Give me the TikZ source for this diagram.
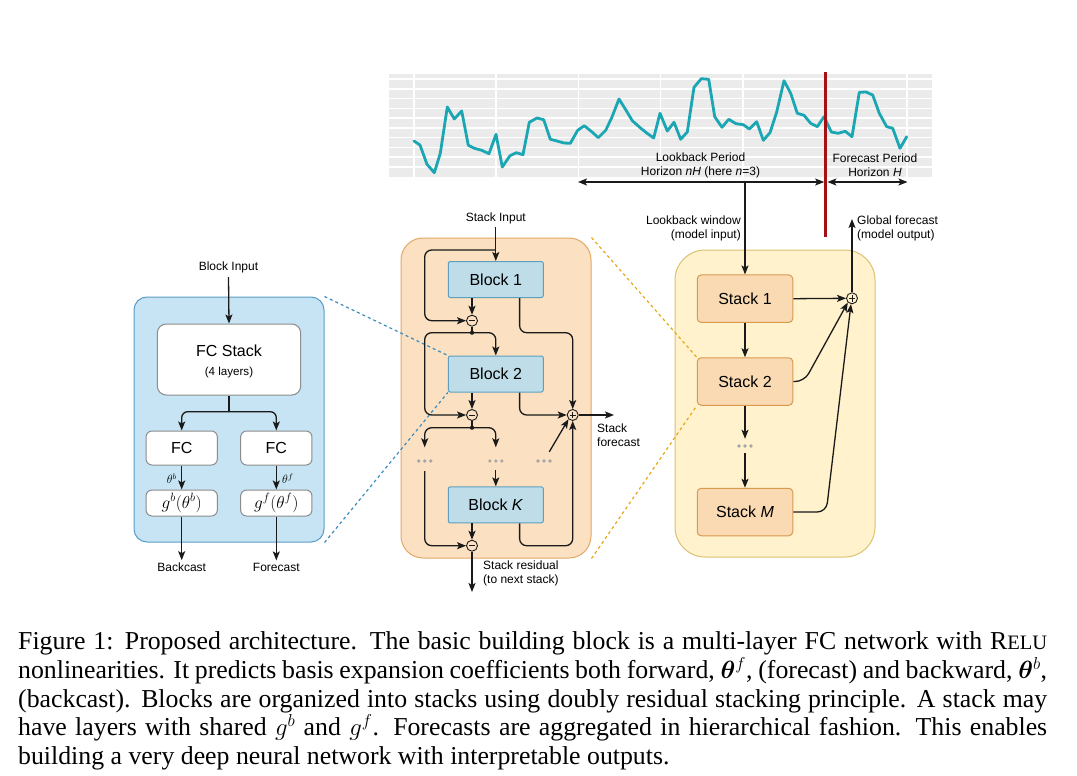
\documentclass[tikz,border=0pt]{standalone}
\usepackage{amsmath,bm}
\usepackage{fontspec}
\setmainfont{Liberation Serif}
\newfontfamily\arial{Liberation Sans}
\usetikzlibrary{arrows.meta}
\definecolor{teal1}{HTML}{1AA6B2}
\definecolor{chartbg}{HTML}{EBEBEB}
\definecolor{redl}{HTML}{A50F15}
\definecolor{bluepanel}{HTML}{C6E4F3}
\definecolor{blueedge}{HTML}{5A9CC6}
\definecolor{midpanel}{HTML}{FBE0C2}
\definecolor{midedge}{HTML}{E2A967}
\definecolor{blockfill}{HTML}{BEDDE8}
\definecolor{blockedge}{HTML}{5E9FBF}
\definecolor{rightpanel}{HTML}{FFF2CC}
\definecolor{rightedge}{HTML}{DCC172}
\definecolor{stackfill}{HTML}{FADAB2}
\definecolor{stackedge}{HTML}{D99A50}
\definecolor{dashb}{HTML}{3C8DBF}
\definecolor{dasho}{HTML}{E6A817}
\definecolor{dotgray}{HTML}{A6A6A6}
\definecolor{ink}{HTML}{1A1A1A}
\tikzset{
  lbl/.style={font=\arial\fontsize{12}{14}\selectfont, inner sep=0pt, text=black},
  conn/.style={line width=1.3pt, draw=ink, -{Stealth[length=9pt,width=7pt,inset=2pt]}},
  plain/.style={line width=1.3pt, draw=ink},
  panel/.style={draw=#1edge, fill=#1panel, line width=1pt, rounded corners=22pt},
  blockbox/.style={draw=blockedge, fill=blockfill, line width=1pt, rounded corners=2pt,
     minimum width=95pt, minimum height=36pt, inner sep=0pt, font=\arial\fontsize{16}{18}\selectfont},
  stackbox/.style={draw=stackedge, fill=stackfill, line width=1pt, rounded corners=4pt,
     minimum width=95.5pt, minimum height=47.5pt, inner sep=0pt, font=\arial\fontsize{16}{18}\selectfont},
  whitebox/.style={draw=black!45, fill=white, line width=1pt, rounded corners=6pt, inner sep=0pt},
  opcirc/.style={circle, draw=ink, line width=0.9pt, fill=#1, minimum size=11pt, inner sep=0pt},
  minusop/.style={opcirc=#1, path picture={\draw[line width=0.9pt,ink] ([xshift=-3.2pt]path picture bounding box.center) -- ([xshift=3.2pt]path picture bounding box.center);}},
  plusop/.style={opcirc=#1, path picture={\draw[line width=0.9pt,ink] ([xshift=-3.2pt]path picture bounding box.center) -- ([xshift=3.2pt]path picture bounding box.center) ([yshift=-3.2pt]path picture bounding box.center) -- ([yshift=3.2pt]path picture bounding box.center);}},
  dotsn/.style={minimum width=18pt, minimum height=6pt, inner sep=0pt,
     path picture={\fill[dotgray] ([xshift=-6pt]path picture bounding box.center) circle (1.8pt)
        (path picture bounding box.center) circle (1.8pt) ([xshift=6pt]path picture bounding box.center) circle (1.8pt);}},
  dashblue/.style={draw=dashb, line width=1.2pt, dash pattern=on 3pt off 3pt},
  dashorange/.style={draw=dasho, line width=1.2pt, dash pattern=on 3pt off 3pt},
  dblarrow/.style={line width=1.3pt, draw=ink, {Stealth[length=9pt,width=7pt,inset=2pt]}-{Stealth[length=9pt,width=7pt,inset=2pt]}},
}
\begin{document}
\begin{tikzpicture}[x=1pt,y=-1pt]
\useasboundingbox[fill=white] (0,0) rectangle (1077,776);

% ---------------- chart ----------------
\fill[chartbg] (389,74) rectangle (932,177);
\foreach \yy in {79,89,98.5,108.5,118,128,137.5,147.5,157,167}
  \draw[white, line width=1.1pt] (389,\yy) -- (932,\yy);
\foreach \xx in {414,496.2,578.4,660.6,742.8,825,907.2}
  \draw[white, line width=1.6pt] (\xx,74) -- (\xx,177);
\draw[teal1, line width=2.8pt, line join=round, line cap=round]
 (414,141) -- (420,145) -- (427,164.3) -- (434.3,172.7) -- (440.3,153.3) -- (447.3,107) -- (454.3,119) -- (461.7,111) -- (468.3,145.3) -- (474.3,148.3) -- (481.7,150.3) -- (489,153.7) -- (496,134.3) -- (502.3,167) -- (510,155.7) -- (516.3,152.7) -- (523,154.7) -- (529.3,122.3) -- (537,118) -- (543.7,119.7) -- (550.3,139.3) -- (557,141) -- (564,143) -- (570.3,143.3) -- (577.7,130.3) -- (584.3,125.7) -- (591.7,131.7) -- (598.3,137.7) -- (605.7,130.3) -- (611.7,117.7) -- (619,99) -- (625.7,109.7) -- (632.3,120.7) -- (639.7,127.3) -- (646.7,133) -- (653.7,138) -- (660,113.3) -- (667.3,131) -- (674,122.3) -- (680.7,139.3) -- (687.3,132) -- (694,87.3) -- (701.3,78.7) -- (708.7,79.3) -- (714.7,116.7) -- (722,127.3) -- (728.7,119.3) -- (736,123.7) -- (743.3,124.7) -- (749.3,129) -- (756.7,121.7) -- (763.3,140.3) -- (770,132.7) -- (776.7,112) -- (784,80.7) -- (790.7,93.3) -- (797.3,113.3) -- (804,115.3) -- (810.7,123.3) -- (817.3,126.7) -- (824,116.7) -- (831.3,132) -- (838,133.3) -- (845.3,131.3) -- (852,136.7) -- (859.3,92.3) -- (866,92) -- (872.7,95) -- (879.3,113.3) -- (886.7,126.7) -- (892.7,128.3) -- (900,148.3) -- (906.7,136.7);
\draw[redl, line width=2.6pt] (825.7,72) -- (825.7,237);

\node[lbl, align=center] (lbp) at (700.5,165.5) {Lookback Period\\Horizon \textit{nH} (here \textit{n}=3)};
\node[lbl, align=center] (fcp) at (875,165.5) {Forecast Period\\Horizon \textit{H}};
\coordinate (la) at (578,182);
\coordinate (lb) at (824.2,182);
\coordinate (fa) at (827.4,182);
\coordinate (fb) at (907.5,182);
\draw[dblarrow] (la) -- (lb);
\draw[dblarrow] (fa) -- (fb);
\coordinate (lw) at (745,182);

% ---------------- panels ----------------
\node[panel=blue, rounded corners=13pt, minimum width=190pt, minimum height=245pt] (bp) at (229,419.5) {};
\node[panel=mid, minimum width=190pt, minimum height=320pt] (mp) at (496,398) {};
\node[panel=right, rounded corners=30pt, minimum width=200pt, minimum height=307pt] (rp) at (775,403.5) {};

% ---------------- stack internals nodes ----------------
\node[blockbox] (b1) at (495.8,279.5) {Block 1};
\node[blockbox] (b2) at (495.8,374) {Block 2};
\node[blockbox] (bk) at (495.8,504.9) {Block \textit{K}};

\node[stackbox] (s1) at (745,298.7) {Stack 1};
\node[stackbox] (s2) at (745,381.5) {Stack 2};
\node[stackbox] (sm) at (745,512) {Stack \textit{M}};

% dashed zoom lines
\draw[dashblue] (bp.north east) -- (b2.north west);
\draw[dashblue] (bp.south east) -- (b2.south west);
\draw[dashorange] (mp.north east) -- (s2.north west);
\draw[dashorange] (mp.south east) -- (s2.south west);

% ---------------- left block detail ----------------
\node[lbl] (bin) at (228.5,267.3) {Block Input};
\node[whitebox, rounded corners=9pt, minimum width=143.4pt, minimum height=71pt] (fcs) at (229,359.5) {};
\node[lbl, font=\arial\fontsize{16}{18}\selectfont] (fcst) at (229,351) {FC Stack};
\node[lbl, font=\arial\fontsize{11.6}{13}\selectfont] (fcsl) at (229,372) {(4 layers)};
\node[whitebox, minimum width=71.3pt, minimum height=34pt, font=\arial\fontsize{16}{18}\selectfont] (fcb) at (181.7,448) {FC};
\node[whitebox, minimum width=71.3pt, minimum height=34pt, font=\arial\fontsize{16}{18}\selectfont] (fcf) at (276.3,448) {FC};
\node[whitebox, minimum width=71.3pt, minimum height=26pt, font=\fontsize{18}{20}\selectfont] (gb) at (181.7,503) {$g^b(\theta^b)$};
\node[whitebox, minimum width=71.3pt, minimum height=26pt, font=\fontsize{18}{20}\selectfont] (gf) at (276.3,503) {$g^f(\theta^f)$};
\node[inner sep=0pt, anchor=east, font=\fontsize{12}{14}\selectfont] (thb) at (177,479) {$\theta^b$};
\node[inner sep=0pt, anchor=west, font=\fontsize{12}{14}\selectfont] (thf) at (282,479) {$\theta^f$};
\node[lbl] (bc) at (181.7,567.3) {Backcast};
\node[lbl] (fc) at (276.3,567.3) {Forecast};
\coordinate (fork) at (229,411.7);
\draw[conn] (bin.south) ++(0,4) -- (fcs.north);
\draw[plain] (fcs.south) -- (fork);
\draw[conn, rounded corners=6pt] (fork) -- (fork -| fcb) -- (fcb.north);
\draw[conn, rounded corners=6pt] (fork) -- (fork -| fcf) -- (fcf.north);
\draw[conn] (fcb.south) -- (gb.north);
\draw[conn] (fcf.south) -- (gf.north);
\draw[conn] (gb.south) -- ([yshift=2.5pt]bc.north);
\draw[conn] (gf.south) -- ([yshift=2.5pt]fc.north);

% ---------------- stack internals connectors ----------------
\node[lbl] (si) at (495.8,218) {Stack Input};
\node[minusop=midpanel] (m1) at (472,320.7) {};
\node[minusop=midpanel] (m2) at (472,415) {};
\node[minusop=midpanel] (mk) at (472,545.7) {};
\node[plusop=midpanel] (p1) at (572.7,415) {};
\coordinate (fbtop) at (495.8,250);
\coordinate (xl) at (424.7,0);
\coordinate (j1) at (472,332.7);
\coordinate (j2) at (472,427.7);
\coordinate (b1l) at ([xshift=-23.8pt]b1.south);
\coordinate (b1r) at ([xshift=23.8pt]b1.south);
\coordinate (b2l) at ([xshift=-23.8pt]b2.south);
\coordinate (b2r) at ([xshift=23.8pt]b2.south);
\coordinate (bkl) at ([xshift=-23.8pt]bk.south);
\coordinate (bkr) at ([xshift=23.8pt]bk.south);
\node[dotsn] (d1) at (424.7,461) {};
\node[dotsn] (d2) at (495.8,461) {};
\node[dotsn] (d3) at (544,461) {};
\node[lbl, anchor=north west, align=left] (sf) at (597,424) {Stack\\forecast};
\node[lbl, anchor=north west, align=left] (sr) at (483,561) {Stack residual\\(to next stack)};
\coordinate (srend) at (472,592);
\coordinate (sfend) at (614,415);

\draw[conn] (si.south) ++(0,3) -- (b1.north);
\draw[conn, rounded corners=7pt] (fbtop) -- (fbtop -| xl) -- (xl |- m1) -- (m1.west);
\draw[conn] (b1l) -- (m1.north);
\draw[plain] (m1.south) -- (j1);
\fill[ink] (j1) circle (2.1pt);
\draw[conn, rounded corners=7pt] (j1) -- (j1 -| b2.north) -- (b2.north);
\draw[conn, rounded corners=7pt] (j1) -- (j1 -| xl) -- (xl |- m2) -- (m2.west);
\draw[conn] (b2l) -- (m2.north);
\draw[conn, rounded corners=7pt] (b1r) -- (b1r |- j1) -- (p1 |- j1) -- (p1.north);
\draw[conn, rounded corners=7pt] (b2r) -- (b2r |- p1) -- (p1.west);
\draw[conn] (p1.east) -- (sfend);
\draw[plain] (m2.south) -- (j2);
\fill[ink] (j2) circle (2.1pt);
\draw[conn, rounded corners=7pt] (j2) -- (j2 -| d1) -- ([yshift=10.5pt]d1.north);
\draw[conn, rounded corners=7pt] (j2) -- (j2 -| d2) -- ([yshift=10.5pt]d2.north);
\draw[conn, rounded corners=7pt] ([yshift=-7pt]d1.south) -- (d1 |- mk) -- (mk.west);
\draw[conn] ([yshift=-6pt]d2.south) -- (bk.north);
\draw[conn] (bkl) -- (mk.north);
\draw[conn, rounded corners=7pt] (bkr) -- (bkr |- mk) -- (p1 |- mk) -- (p1.south);
\draw[conn] ([xshift=5.3pt,yshift=6pt]d3.north) -- (p1.225);
\draw[conn] (mk.south) -- (srend);

% ---------------- right panel connectors ----------------
\node[plusop=rightpanel] (gp) at (852,298.3) {};
\node[lbl, anchor=east, align=right] (lwl) at (741,228) {Lookback window\\(model input)};
\node[lbl, anchor=west, align=left] (gfl) at (857,228) {Global forecast\\(model output)};
\coordinate (gpout) at (852,219);
\node[dotsn] (d4) at (745,446) {};
\draw[conn] (lw) -- (s1.north);
\draw[conn] (s1.south) -- (s2.north);
\draw[conn] (s2.south) -- ([yshift=4pt]d4.north);
\draw[conn] ([yshift=-4pt]d4.south) -- (sm.north);
\draw[conn] (s1.east) -- (gp.west);
\draw[conn, rounded corners=9pt] (s2.east) -- ++(11,0) -- (gp.225);
\draw[conn, rounded corners=9pt] (sm.east) -- ++(33,0) -- (gp.260);
\draw[conn] (gp.north) -- (gpout);

% ---------------- caption ----------------
\node[anchor=north west, inner sep=0pt, text width=1029pt, align=justify,
      font=\fontsize{25.8}{28.6}\selectfont] (cap) at (18,631.7)
{Figure 1: Proposed architecture. The basic building block is a multi-layer FC network with R{\fontsize{20.5}{24}\selectfont ELU}\linebreak
nonlinearities. It predicts basis expansion coefficients both forward, $\bm{\theta}^f$, (forecast) and backward, $\bm{\theta}^b$,\linebreak
(backcast). Blocks are organized into stacks using doubly residual stacking principle. A stack may\linebreak
have layers with shared $g^b$ and $g^f$. Forecasts are aggregated in hierarchical fashion. This enables\linebreak
building a very deep neural network with interpretable outputs.};
\end{tikzpicture}
\end{document}
